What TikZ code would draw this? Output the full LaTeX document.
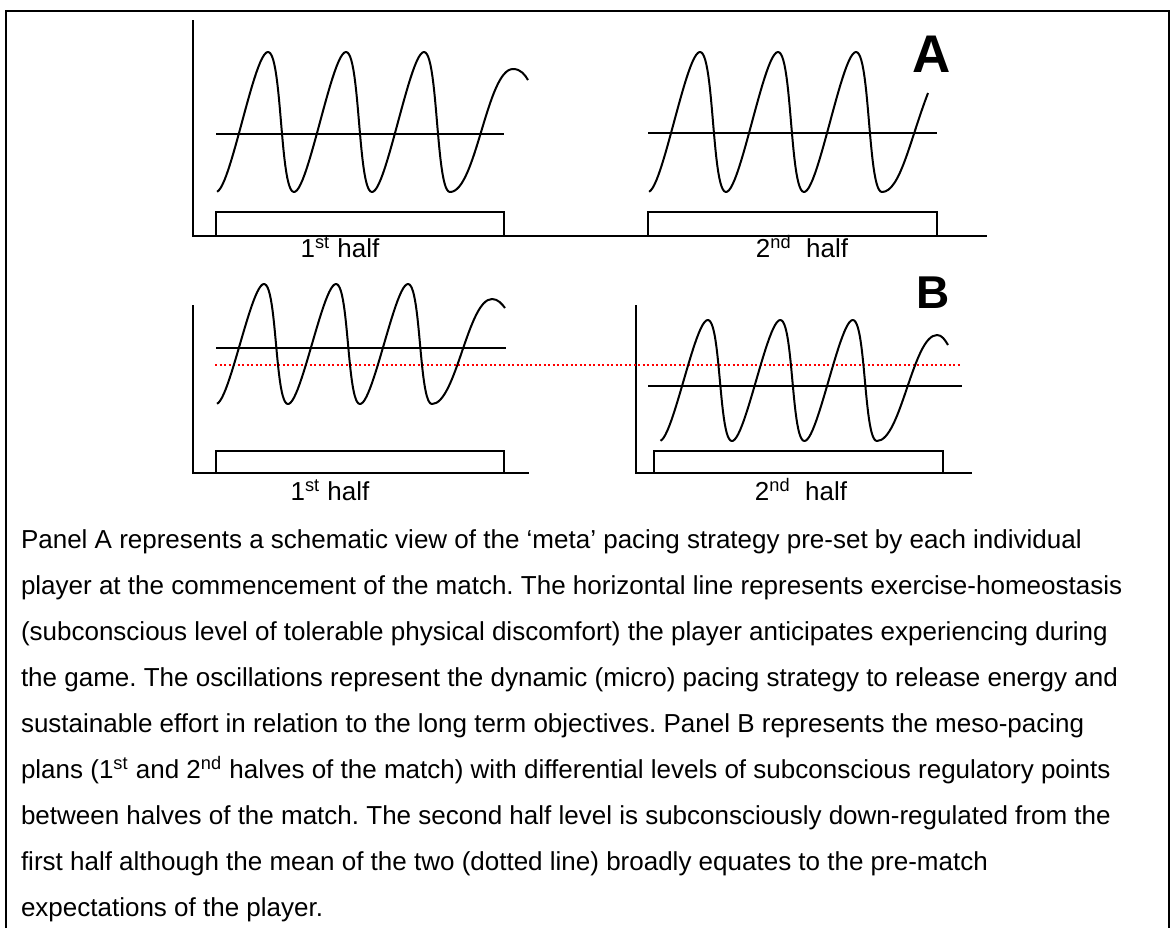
\documentclass[tikz,border=0pt]{standalone}
\usepackage{fontspec}
\setmainfont{Liberation Sans}
\usetikzlibrary{positioning}
\frenchspacing

% skewed oscillation: x0, mid, amplitude, period, start angle, end angle
\newcommand{\pacewave}[6]{plot[domain=#5:#6,samples=150,variable=\t]
  ({#1+#4*(\t/360-cos(\t)/12)},{#2+#3*cos(\t)})}

\begin{document}
\begin{tikzpicture}[x=0.5pt,y=-0.5pt,line width=1pt,
  sheetedge/.style={line width=1.25pt},
  osc/.style={line width=1pt,line join=round},
  setpoint/.style={line width=1pt},
  mean/.style={red,line width=0.75pt,dash pattern=on 1pt off 1.25pt},
  halflbl/.style={font=\fontsize{13}{15}\selectfont,anchor=base,inner sep=0pt},
  paneltag/.style={font=\bfseries\fontsize{26.5}{30}\selectfont,anchor=base west,inner sep=0pt}]
\useasboundingbox (0,0) rectangle (1171,928);
\draw[sheetedge] (6,928) -- (6,11) -- (1169,11) -- (1169,928);

% panel A
\draw (193,20) -- (193,236) -- (987,236);
\draw (216,212) rectangle (504,236);
\draw (648,212) rectangle (937,236);
\draw[setpoint] (216,134) -- (504,134);
\draw[setpoint] (648,133) -- (937,133);
\draw[osc] \pacewave{300.5}{122}{70}{78}{-355}{720}
  .. controls (476,192) and (487,69) .. (513,69)
  .. controls (521,69) and (525,75) .. (528,80);
\draw[osc] \pacewave{732.5}{122}{70}{78}{-355}{720}
  .. controls (900,192) and (910,140) .. (928,93);
\node[halflbl] (halfAone) at (340,257) {1\textsuperscript{st} half};
\node[halflbl] (halfAtwo) at (802,257) {2\textsuperscript{nd}~~half};
\node[paneltag] (tagA) at (911,72) {A};

% panel B
\draw (193,305) -- (193,473) -- (529,473);
\draw (636,305) -- (636,473) -- (972,473);
\draw (216,451) rectangle (504,473);
\draw (654,451) rectangle (943,473);
\draw[setpoint] (216,348) -- (506,348);
\draw[setpoint] (648,386) -- (962,386);
\draw[mean] (215,365) -- (960,365);
\draw[osc] \pacewave{294}{344}{60}{72}{-355}{720}
  .. controls (456,404) and (468,299) .. (492,299)
  .. controls (498,299) and (502,304) .. (505,308);
\draw[osc] \pacewave{738}{380.5}{60.5}{72.5}{-355}{720}
  .. controls (901,441) and (913,335) .. (937,335)
  .. controls (942,335) and (945,340) .. (948,345);
\node[halflbl] (halfBone) at (330,500) {1\textsuperscript{st} half};
\node[halflbl] (halfBtwo) at (801,500) {2\textsuperscript{nd}~~half};
\node[paneltag,font=\bfseries\fontsize{23}{26}\selectfont] (tagB) at (915,308) {B};

% caption (base = last line)
\node[anchor=base west,align=left,inner sep=0pt,font=\fontsize{13}{23}\selectfont] (caption) at (20,916)
{Panel A represents a schematic view of the ‘meta’ pacing strategy pre-set by each individual\\
player at the commencement of the match. The horizontal line represents exercise-homeostasis\\
(subconscious level of tolerable physical discomfort) the player anticipates experiencing during\\
the game. The oscillations represent the dynamic (micro) pacing strategy to release energy and\\
sustainable effort in relation to the long term objectives. Panel B represents the meso-pacing\\
plans (1\textsuperscript{st} and 2\textsuperscript{nd} halves of the match) with differential levels of subconscious regulatory points\\
between halves of the match. The second half level is subconsciously down-regulated from the\\
first half although the mean of the two (dotted line) broadly equates to the pre-match\\
expectations of the player.};
\end{tikzpicture}
\end{document}
